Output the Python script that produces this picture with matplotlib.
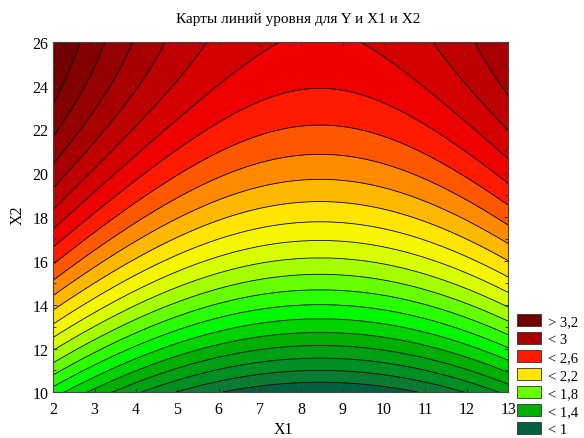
import numpy as np
import matplotlib
matplotlib.use("Agg")
import matplotlib.pyplot as plt
from matplotlib.patches import Patch
from matplotlib.ticker import MultipleLocator

# quadratic response surface Y(X1, X2): b0, b1, b2, b11, b22, b12
coef_names = ["b0", "b1", "b2", "b11", "b22", "b12"]
coef_values = [-0.4235, -0.2586, 0.2937, 0.0153, -0.00508, 0.0]

x1_range = [2, 13]
x2_range = [10, 26]

# contour levels every 0.1
levels = [1.0, 1.1, 1.2, 1.3, 1.4, 1.5, 1.6, 1.7, 1.8, 1.9, 2.0,
          2.1, 2.2, 2.3, 2.4, 2.5, 2.6, 2.7, 2.8, 2.9, 3.0, 3.1, 3.2]

# legend entries
legend_labels = ["> 3,2", "< 3", "< 2,6", "< 2,2", "< 1,8", "< 1,4", "< 1"]
legend_colors = ["#720000", "#a80000", "#ff1a00", "#ffe400", "#66ff00", "#00b000", "#006040"]

# fill colour of each band, from lowest (< 1) to highest (> 3,2)
band_colors = ["#006040", "#0b7a32", "#008f22", "#00a014", "#00b000",
               "#00d400", "#00f800", "#2aff00", "#66ff00", "#a4ff00",
               "#d8ff00", "#f6f600", "#ffe400", "#ffb800", "#ff8a00",
               "#ff5600", "#ff1a00", "#ee0000", "#d40000", "#bd0000",
               "#a80000", "#950000", "#830000", "#720000"]

plt.rcParams["font.family"] = ["Liberation Serif", "DejaVu Serif"]

b = dict(zip(coef_names, coef_values))
x1 = np.linspace(x1_range[0], x1_range[1], 300)
x2 = np.linspace(x2_range[0], x2_range[1], 300)
X1, X2 = np.meshgrid(x1, x2)
Y = (b["b0"] + b["b1"] * X1 + b["b2"] * X2 + b["b11"] * X1 ** 2
     + b["b22"] * X2 ** 2 + b["b12"] * X1 * X2)

edges = [min(Y.min(), 0.0)] + levels + [max(Y.max(), 4.0)]

fig = plt.figure(figsize=(5.84, 4.39), dpi=100)
ax = fig.add_axes([0.0913, 0.104, 0.7787, 0.7987])

ax.contourf(X1, X2, Y, levels=edges, colors=band_colors)
ax.contour(X1, X2, Y, levels=levels, colors="black", linewidths=0.6)

ax.set_xlim(x1_range)
ax.set_ylim(x2_range)
ax.xaxis.set_major_locator(MultipleLocator(1))
ax.yaxis.set_major_locator(MultipleLocator(2))
ax.yaxis.set_minor_locator(MultipleLocator(1))
ax.tick_params(which="both", direction="in", top=True, right=True,
               length=3, width=0.7, color="#333333", labelsize=11.5)
ax.tick_params(which="minor", length=2)
ax.tick_params(axis="x", pad=6)
for s in ax.spines.values():
    s.set_color("#444444")
    s.set_linewidth(0.8)

fig.text(298 / 584, 1 - 20 / 439, "Карты линий уровня для Y и X1 и X2",
         fontsize=11, ha="center", va="center")
fig.text(283 / 584, 1 - 430 / 439, "X1", fontsize=11.5, ha="center", va="center")
fig.text(18 / 584, 1 - 215 / 439, "X2", fontsize=11.5, ha="center", va="center",
         rotation=90)

handles = [Patch(facecolor=c, edgecolor="#333333", linewidth=0.6) for c in legend_colors]
fig.legend(handles, legend_labels, loc="upper left",
           bbox_to_anchor=(517 / 584, 1 - 315 / 439), frameon=False,
           fontsize=10.5, borderpad=0, handlelength=1.65, handleheight=0.9,
           labelspacing=0.27, handletextpad=0.45, borderaxespad=0)

fig.savefig("out.png", dpi=100)
